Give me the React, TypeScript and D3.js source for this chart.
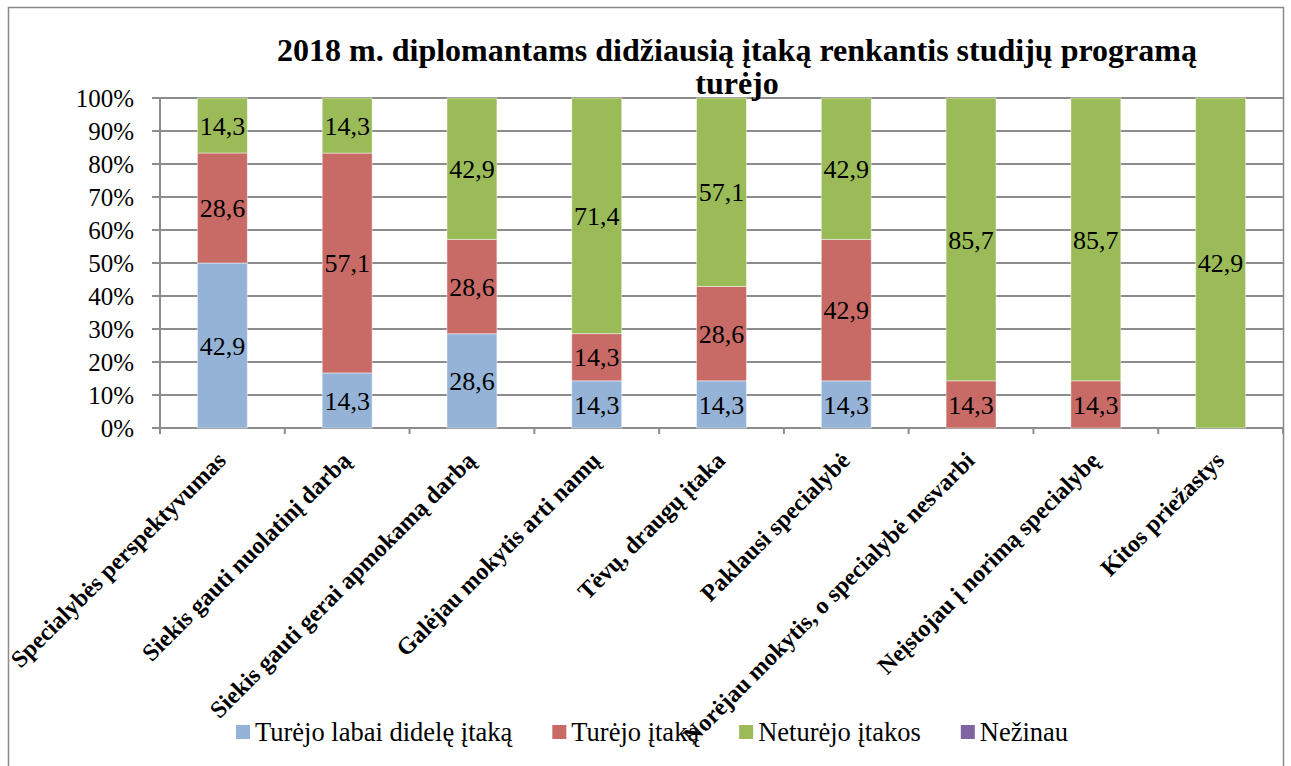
import React from 'react';
import * as d3 from 'd3';

const categories = [
  "Specialybės perspektyvumas",
  "Siekis gauti nuolatinį darbą",
  "Siekis gauti gerai apmokamą darbą",
  "Galėjau mokytis arti namų",
  "Tėvų, draugų įtaka",
  "Paklausi specialybė",
  "Norėjau mokytis, o specialybė nesvarbi",
  "Neįstojau į norimą specialybę",
  "Kitos priežastys",
];
const seriesNames = ["Turėjo labai didelę įtaką", "Turėjo įtaką", "Neturėjo įtakos", "Nežinau"];
const veryBigInfluence = [42.9, 14.3, 28.6, 14.3, 14.3, 14.3, 0, 0, 0];
const hadInfluence = [28.6, 57.1, 28.6, 14.3, 28.6, 42.9, 14.3, 14.3, 0];
const noInfluence = [14.3, 14.3, 42.9, 71.4, 57.1, 42.9, 85.7, 85.7, 42.9];
const dontKnow = [0, 0, 0, 0, 0, 0, 0, 0, 0];
const seriesValues = [veryBigInfluence, hadInfluence, noInfluence, dontKnow];
const yTicks = [0, 0.1, 0.2, 0.3, 0.4, 0.5, 0.6, 0.7, 0.8, 0.9, 1];
const titleLines = ["2018 m. diplomantams didžiausią įtaką renkantis studijų programą", "turėjo"];
const colors = ["#95B3D7", "#C86B66", "#9BBB59", "#8064A2"];

const FONT = "'Liberation Serif', 'Times New Roman', serif";
const W = 1291;
const H = 766;
const plot = { left: 160, right: 1283, top: 98, bottom: 428 };
const LEGEND_SIZE = 26.5;

function measure(text: string, font: string): number {
  const c = document.createElement('canvas');
  const ctx = c.getContext('2d');
  if (!ctx) return text.length * 11;
  ctx.font = font;
  return ctx.measureText(text).width;
}

export default function App() {
  const rows = categories.map((c, i) => {
    const r: any = { cat: c };
    seriesNames.forEach((s, j) => (r[s] = seriesValues[j][i]));
    return r;
  });
  const stack = d3.stack<any>().keys(seriesNames).offset(d3.stackOffsetExpand);
  const layers = stack(rows);

  const x = d3.scaleBand<string>().domain(categories).range([plot.left, plot.right]).paddingInner(0.6).paddingOuter(0.3);
  const y = d3.scaleLinear().domain([0, 1]).range([plot.bottom, plot.top]);
  const step = x.step();
  const fmt = (v: number) => d3.format('.1f')(v).replace('.', ',');

  let lx = 236;
  const legendItems = seriesNames.map((s, i) => {
    const w = measure(s, `${LEGEND_SIZE}px 'Liberation Serif'`);
    const item = { s, i, x: lx, w };
    lx += 14 + 5 + w + 40;
    return item;
  });

  const boundaries = d3.range(categories.length + 1).map((k) => plot.left + k * step);

  return (
    <svg width={W} height={H} style={{ position: 'absolute', left: 0, top: 0, background: '#fff' }} fontFamily={FONT}>
      <rect x={8.5} y={7.5} width={1275} height={780} fill="#fff" stroke="#8a8a8a" strokeWidth={1.5} />
      {yTicks.map((t) => (
        <line key={t} x1={plot.left - 8} x2={plot.right} y1={y(t)} y2={y(t)} stroke="#8c8c8c" strokeWidth={2} />
      ))}
      <line x1={plot.left} x2={plot.left} y1={plot.top} y2={plot.bottom + 5} stroke="#8c8c8c" strokeWidth={2} />
      {boundaries.map((bx, k) => (
        <line key={k} x1={bx} x2={bx} y1={plot.bottom} y2={plot.bottom + 6} stroke="#8c8c8c" strokeWidth={2} />
      ))}
      {yTicks.map((t) => (
        <text key={t} x={134} y={y(t)} dy="0.35em" textAnchor="end" fontSize={25} fill="#000" fontFamily={FONT}>
          {Math.round(t * 100) + '%'}
        </text>
      ))}
      {layers.map((layer, j) => (
        <g key={layer.key}>
          {layer.map((d, i) => {
            const h = y(d[0]) - y(d[1]);
            if (h <= 0) return null;
            return (
              <rect key={i} x={x(categories[i])} y={y(d[1])} width={x.bandwidth()} height={h}
                fill={colors[j]} stroke="#ffffff" strokeOpacity={0.45} strokeWidth={1} />
            );
          })}
        </g>
      ))}
      {layers.map((layer, j) => (
        <g key={'l' + layer.key}>
          {layer.map((d, i) => {
            const v = seriesValues[j][i];
            if (!v) return null;
            return (
              <text key={i} x={(x(categories[i]) as number) + x.bandwidth() / 2} y={(y(d[0]) + y(d[1])) / 2}
                dy="0.35em" textAnchor="middle" fontSize={26} fill="#000" fontFamily={FONT}>
                {fmt(v)}
              </text>
            );
          })}
        </g>
      ))}
      {categories.map((c) => {
        const cx = (x(c) as number) + x.bandwidth() / 2;
        return (
          <text key={c} transform={`translate(${cx + 5},${plot.bottom + 34}) rotate(-45)`} textAnchor="end"
            fontSize={24} fontWeight="bold" fill="#000" fontFamily={FONT}>
            {c}
          </text>
        );
      })}
      {titleLines.map((t, k) => (
        <text key={k} x={737} y={61 + k * 33} textAnchor="middle" fontSize={32} fontWeight="bold" fill="#000" fontFamily={FONT}>
          {t}
        </text>
      ))}
      {legendItems.map((it) => (
        <g key={it.s}>
          <rect x={it.x} y={725} width={14} height={14} fill={colors[it.i]} />
          <text x={it.x + 19} y={741} fontSize={LEGEND_SIZE} fill="#000" fontFamily={FONT}>
            {it.s}
          </text>
        </g>
      ))}
    </svg>
  );
}
